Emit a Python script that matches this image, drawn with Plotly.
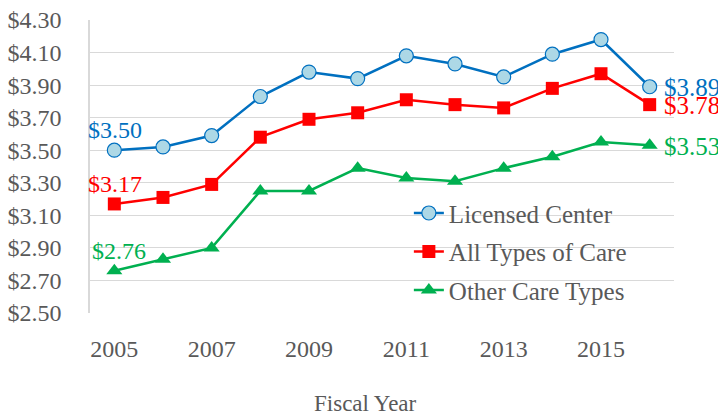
import plotly.graph_objects as go

years = [2005, 2006, 2007, 2008, 2009, 2010, 2011, 2012, 2013, 2014, 2015, 2016]
licensed_center = [3.50, 3.52, 3.59, 3.83, 3.98, 3.94, 4.08, 4.03, 3.95, 4.09, 4.18, 3.89]
all_types = [3.17, 3.21, 3.29, 3.58, 3.69, 3.73, 3.81, 3.78, 3.76, 3.88, 3.97, 3.78]
other_types = [2.76, 2.83, 2.90, 3.25, 3.25, 3.39, 3.33, 3.31, 3.39, 3.46, 3.55, 3.53]
y_ticks = [2.50, 2.70, 2.90, 3.10, 3.30, 3.50, 3.70, 3.90, 4.10, 4.30]
x_ticks = [2005, 2007, 2009, 2011, 2013, 2015]

FONT = "Liberation Serif"
GRAY = "#595959"
BLUE = "#0070C0"
RED = "#FF0000"
GREEN = "#00B050"

fig = go.Figure()
fig.add_trace(go.Scatter(
    x=years, y=licensed_center, name="Licensed Center", mode="lines+markers",
    line=dict(color=BLUE, width=2.5), legendgroup="a",
    marker=dict(symbol="circle", size=14, color="#ADD8E6", line=dict(color=BLUE, width=1.2)),
))
fig.add_trace(go.Scatter(
    x=years, y=all_types, name="All Types of Care", mode="lines+markers",
    line=dict(color=RED, width=2.5), legendgroup="b",
    marker=dict(symbol="square", size=13, color=RED),
))
fig.add_trace(go.Scatter(
    x=years, y=other_types, name="Other Care Types", mode="lines+markers",
    line=dict(color=GREEN, width=2.5), legendgroup="c",
    marker=dict(symbol="triangle-up", size=14, color=GREEN),
))

PLOT_TOP, PLOT_BOTTOM = 19.5, 313
annotations = []
for vals, col in [(licensed_center, BLUE), (all_types, RED), (other_types, GREEN)]:
    annotations.append(dict(x=years[0], y=vals[0], text=f"${vals[0]:.2f}", showarrow=False,
                            xanchor="center", yanchor="middle", yshift=20, xshift=1 if col != GREEN else 5,
                            font=dict(family=FONT, size=24, color=col)))
    annotations.append(dict(x=years[-1], y=vals[-1], text=f"${vals[-1]:.2f}", showarrow=False,
                            xanchor="left", yanchor="middle", xshift=12, yshift=-1,
                            font=dict(family=FONT, size=25, color=col)))
annotations.append(dict(x=0.471, y=-(404 - PLOT_BOTTOM) / (PLOT_BOTTOM - PLOT_TOP),
                        xref="paper", yref="paper", text="Fiscal Year", yanchor="middle",
                        showarrow=False, font=dict(family=FONT, size=23, color=GRAY)))

fig.update_layout(
    width=718, height=414,
    margin=dict(l=90, r=44, t=PLOT_TOP, b=414 - PLOT_BOTTOM, autoexpand=False),
    paper_bgcolor="white", plot_bgcolor="white",
    font=dict(family=FONT, color=GRAY, size=23),
    showlegend=True,
    legend=dict(x=0.546, y=0.419, xanchor="left", yanchor="top", bgcolor="rgba(0,0,0,0)",
                font=dict(family=FONT, size=25, color=GRAY), tracegroupgap=3),
    annotations=annotations,
)

fig.update_xaxes(range=[2004.5, 2016.5], tickvals=x_ticks, ticktext=[str(v) for v in x_ticks],
                 showgrid=False, zeroline=False, showline=False, ticks="", automargin=False,
                 tickfont=dict(family=FONT, size=24, color=GRAY), ticklabelstandoff=19)
fig.update_yaxes(range=[2.50, 4.30], tickvals=y_ticks, ticktext=[f"${v:.2f}" for v in y_ticks],
                 showgrid=True, gridcolor="#D9D9D9", gridwidth=1.2, zeroline=False, automargin=False,
                 showline=True, linecolor="#D9D9D9", linewidth=1.5, ticks="",
                 tickfont=dict(family=FONT, size=24, color=GRAY), ticklabelstandoff=22)

fig.write_html("out.html", config={"displayModeBar": False},
               post_script="document.body.style.margin='0px';")
